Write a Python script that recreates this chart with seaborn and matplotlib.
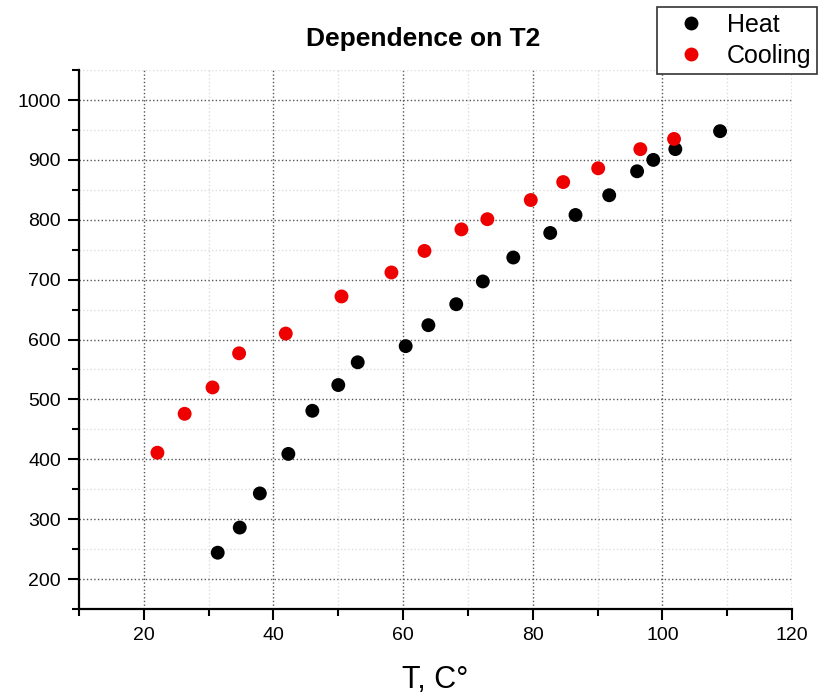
import pandas as pd
import seaborn as sns
import matplotlib.pyplot as plt
from matplotlib.ticker import MultipleLocator

heat_t = [31.4, 34.8, 37.9, 42.3, 46.0, 50.0, 53.0, 60.4, 63.9, 68.2,
          72.3, 77.0, 82.7, 86.6, 91.8, 96.1, 98.6, 102.0, 108.9]
heat_v = [244, 286, 343, 409, 481, 524, 562, 589, 624, 659,
          697, 737, 778, 808, 841, 881, 900, 918, 948]

cool_t = [22.1, 26.3, 30.6, 34.7, 41.9, 50.5, 58.2, 63.3, 69.0, 73.0,
          79.7, 84.7, 90.1, 96.6, 101.8]
cool_v = [411, 476, 520, 577, 610, 672, 712, 748, 784, 801,
          833, 863, 886, 918, 935]

series = ['Heat', 'Cooling']
colors = {'Heat': 'black', 'Cooling': '#ee0000'}

df = pd.DataFrame({
    't': heat_t + cool_t,
    'v': heat_v + cool_v,
    'kind': ['Heat'] * len(heat_t) + ['Cooling'] * len(cool_t),
})

sns.set_style('white')
plt.rcParams['font.family'] = ['Liberation Sans', 'DejaVu Sans']
plt.rcParams['text.color'] = 'black'
plt.rcParams['axes.labelcolor'] = 'black'
plt.rcParams['xtick.color'] = 'black'
plt.rcParams['ytick.color'] = 'black'
plt.rcParams['xtick.labelsize'] = 14
plt.rcParams['ytick.labelsize'] = 14

fig = plt.figure(figsize=(8.22, 6.94), dpi=100)
ax = fig.add_axes([0.0961, 0.1225, 0.8674, 0.7765])

sns.scatterplot(data=df, x='t', y='v', hue='kind', hue_order=series,
                palette=colors, s=100, edgecolor='none', ax=ax, zorder=3)

ax.set_xlim(10, 120)
ax.set_ylim(150, 1050)
ax.xaxis.set_major_locator(MultipleLocator(20))
ax.xaxis.set_minor_locator(MultipleLocator(10))
ax.yaxis.set_major_locator(MultipleLocator(100))
ax.yaxis.set_minor_locator(MultipleLocator(50))

ax.grid(which='major', linestyle=':', color='#555555', linewidth=1.0)
ax.grid(which='minor', linestyle=':', color='#dddddd', linewidth=1.0)
ax.set_axisbelow(True)

for s in ['top', 'right']:
    ax.spines[s].set_visible(False)
for s in ['left', 'bottom']:
    ax.spines[s].set_color('black')
    ax.spines[s].set_linewidth(1.6)

ax.tick_params(which='major', direction='out', length=8, width=1.5,
               pad=5, left=True, bottom=True)
ax.tick_params(which='minor', direction='out', length=5, width=1.5,
               left=True, bottom=True)
for lab in ax.get_xticklabels() + ax.get_yticklabels():
    lab.set_fontsize(14)

ax.set_xlabel('T, C°', fontsize=22, labelpad=15)
ax.set_ylabel('')

fig.text(423 / 822, 1 - 39 / 694, 'Dependence on T2', fontsize=19,
         fontweight='bold', ha='center', va='center')

handles, labels = ax.get_legend_handles_labels()
leg = ax.legend(handles, labels, loc='upper right',
                bbox_to_anchor=(817 / 822, 1 - 7 / 694),
                bbox_transform=fig.transFigure, fontsize=18, frameon=True,
                fancybox=False, edgecolor='#333333', framealpha=1,
                handlelength=2.3, handletextpad=0.3, borderpad=0.22,
                labelspacing=0.3, borderaxespad=0, markerscale=1.0)
leg.get_frame().set_linewidth(1.2)

fig.savefig('out.png', dpi=100)
